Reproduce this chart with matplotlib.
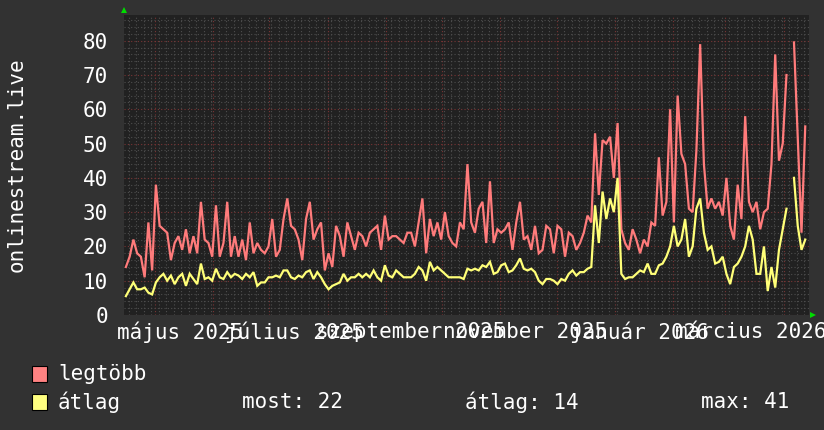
import numpy as np
import matplotlib
matplotlib.use("Agg")
import matplotlib.pyplot as plt
import matplotlib.dates as mdates
from matplotlib.lines import Line2D
from matplotlib.patches import Rectangle
import datetime as dt

nan = np.nan

# ---------------- data ----------------
start = dt.datetime(2025, 4, 14, 12)
end = start + dt.timedelta(days=365)
step_days = 2

legtobb = [
    14, 17, 22, 18, 17, 11, 27, 13, 38, 26, 25, 24, 16, 21, 23, 19, 25, 18, 23, 18,
    33, 22, 21, 17, 32, 17, 21, 33, 17, 23, 17, 22, 16, 27, 18, 21,
    19, 18, 20, 28, 17, 19, 28, 34, 26, 25, 22, 16, 28, 33, 22, 25, 27, 13, 18, 14,
    26, 23, 17, 27, 23, 19, 24, 23, 20, 24, 25, 26, 19, 29, 22, 23, 23,
    22, 21, 24, 24, 20, 27, 34, 18, 28, 23, 27, 22, 30, 23, 21, 20, 27, 25, 44, 27,
    24, 31, 33, 21, 39, 21, 25, 24, 25, 27, 19, 27, 33, 22, 23, 19, 26,
    18, 19, 26, 25, 18, 26, 25, 17, 24, 23, 19, 21, 24, 29, 27, 53, 35, 51, 50, 52,
    40, 56, 25, 21, 19, 25, 22, 18, 22, 20, 27, 26, 46, 29, 33, 60, 27,
    64, 47, 44, 31, 30, 48, 79, 44, 31, 34, 31, 33, 29, 40, 26, 22, 38, 28, 58, 33,
    30, 33, 25, 30, 31, 44, 76, 45, 50, 70, nan, 79.5, 52, 24, 55,
]

atlag = [
    5.5, 7.5, 9.5, 7.5, 7.5, 8, 6.5, 6, 9.5, 11, 12, 10, 11.5, 9, 11, 12, 8.5, 12, 10.5, 9,
    15, 10.5, 11, 10, 13.5, 11, 10.5, 12.5, 11, 12, 11.5, 10.5, 12, 11, 12.5, 8.5,
    9.5, 9.5, 11, 11, 11.5, 11, 13, 13, 11, 10.5, 11.5, 11, 12.5, 13, 10.5, 12.5, 11, 9,
    7.5, 8.5, 9, 9.5, 12, 10, 11, 11, 12, 11, 12, 11, 13, 11, 10, 14.5, 11.5, 11, 13,
    12, 11, 11, 11, 12, 14, 13, 10, 15.5, 13, 14, 13, 12, 11, 11, 11, 11, 10.5, 13.5, 13,
    13.5, 13, 14.5, 14, 15.5, 12, 12.5, 14.5, 15, 12.5, 13, 14.5, 16.5, 13.5, 13, 13.5, 12.5,
    10, 9, 10.5, 10.5, 10, 9, 10.5, 10, 12, 13, 11.5, 12.5, 12.5, 13.5, 14, 32, 21, 36, 28, 34,
    30, 40, 12, 10.5, 11, 11, 12, 13, 12.5, 15, 12, 12, 14.5, 15, 17, 20, 26,
    20, 22, 28, 17, 20, 31, 34, 24, 19, 20, 15, 15.5, 17, 12, 9, 14, 15, 17, 20, 26,
    22, 12, 12, 20, 7, 14, 8, 19, 25, 31, nan, 40, 26, 19, 22,
]

series_names = ["legtöbb", "átlag"]
series_colors = ["#ff7b7b", "#ffff78"]
legend_box_colors = ["#ff8282", "#ffff80"]

month_labels = ["május 2025", "július 2025", "szeptember 2025",
                "november 2025", "január 2026", "március 2026"]
label_months = [(2025, 5), (2025, 7), (2025, 9), (2025, 11), (2026, 1), (2026, 3)]
yticks = [0, 10, 20, 30, 40, 50, 60, 70, 80]
stats_labels = ["most: 22", "átlag: 14", "max: 41"]
ylabel = "onlinestream.live"

# ---------------- style ----------------
W, H = 824, 430
FIG_BG = "#323232"
AX_BG = "#212121"
TXT = "#ffffff"
FONT = "DejaVu Sans Mono"
FS = 15

fig = plt.figure(figsize=(W / 100, H / 100), dpi=100, facecolor=FG if False else FIG_BG)
L, R, B, T = 124, 809, 315, 15
ax = fig.add_axes([L / W, (H - B) / H, (R - L) / W, (B - T) / H])
ax.set_facecolor(AX_BG)
for s in ax.spines.values():
    s.set_visible(False)

dates = [start + dt.timedelta(days=1 + step_days * i) for i in range(len(legtobb))]

for vals, col in zip([legtobb, atlag], series_colors):
    v = np.array(vals, dtype=float)
    ax.plot(dates, v, color=col, lw=1.6, solid_joinstyle="miter", zorder=3)
    # isolated points (NaN on both sides) drawn as short dashes
    ok = ~np.isnan(v)
    prev_nan = np.r_[True, np.isnan(v[:-1])]
    next_nan = np.r_[np.isnan(v[1:]), True]
    iso = ok & prev_nan & next_nan
    ax.plot(np.array(dates)[iso], v[iso], ls="none", marker="_", ms=4, mew=2,
            color=col, zorder=3)

ax.set_xlim(start, end)
ax.set_ylim(0, 87.5)

ax.xaxis.set_major_locator(mdates.MonthLocator())
ax.xaxis.set_minor_locator(mdates.DayLocator(interval=4))
ax.set_yticks(yticks)
ax.set_yticks(np.arange(0, 88, 2), minor=True)

ax.grid(which="minor", color="#4e4e4e", lw=0.8, linestyle=(0, (1, 2)), zorder=1)
ax.grid(which="major", color="#7a3434", lw=0.8, linestyle=(0, (1, 2)), zorder=1.5)
ax.set_axisbelow(True)

ax.tick_params(axis="x", which="both", length=0, labelbottom=False)
ax.tick_params(axis="y", which="both", length=0, pad=11.5)
ax.set_yticklabels([str(t) for t in yticks], fontfamily=FONT, fontsize=FS, color=TXT)

for (yy, mm), lab in zip(label_months, month_labels):
    ax.annotate(lab, xy=(dt.datetime(yy, mm, 14, 8), 0), xycoords=("data", "axes fraction"),
                xytext=(0, -17), textcoords="offset pixels", ha="center", va="center",
                fontfamily=FONT, fontsize=FS, color=TXT, annotation_clip=False)

fig.text(17 / W, 1 - 165 / H, ylabel, rotation=90, ha="center", va="center",
         fontfamily=FONT, fontsize=FS, color=TXT)

# axis arrows
fig.add_artist(Line2D([L / W], [1 - 10 / H], marker="^", ms=5, color="#00dd00",
                      markeredgewidth=0, transform=fig.transFigure))
fig.add_artist(Line2D([813 / W], [1 - 315 / H], marker=">", ms=5, color="#00dd00",
                      markeredgewidth=0, transform=fig.transFigure))

# legend
rows_y = [374, 402]
for yc, name, bc in zip(rows_y, series_names, legend_box_colors):
    fig.add_artist(Rectangle((32 / W, 1 - (yc + 8) / H), 15 / W, 16 / H,
                             facecolor=bc, edgecolor="#000000", lw=0.8,
                             transform=fig.transFigure))
    fig.text(58 / W, 1 - yc / H, name, ha="left", va="center",
             fontfamily=FONT, fontsize=FS, color=TXT)

for xs, lab in zip([242, 465, 701], stats_labels):
    fig.text(xs / W, 1 - rows_y[1] / H, lab, ha="left", va="center",
             fontfamily=FONT, fontsize=FS, color=TXT)

fig.savefig("out.png", dpi=100, facecolor=FIG_BG)
